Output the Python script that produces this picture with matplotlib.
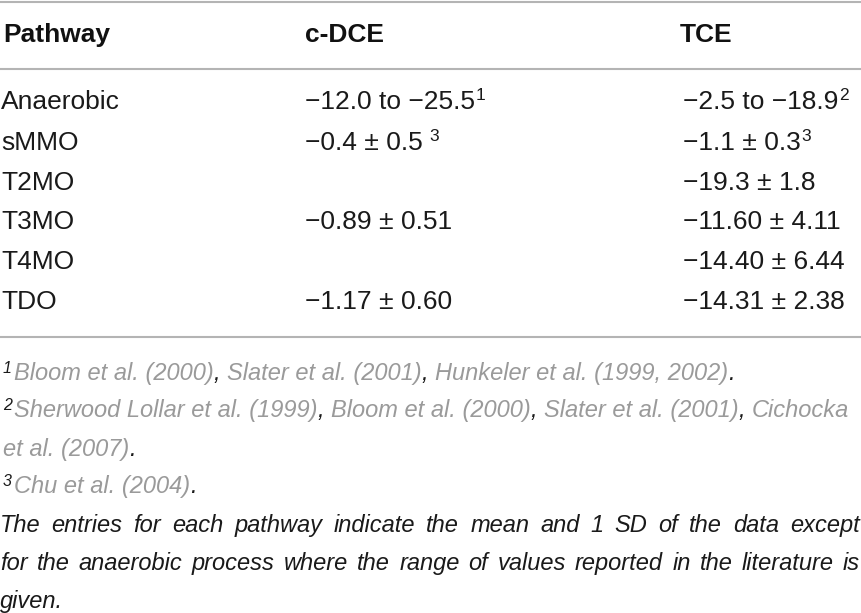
import matplotlib
matplotlib.use("Agg")
import matplotlib.pyplot as plt

# data of the table
headers = ["Pathway", "c-DCE", "TCE"]
pathways = ["Anaerobic", "sMMO", "T2MO", "T3MO", "T4MO", "TDO"]
cdce_values = ["\u221212.0 to \u221225.5", "\u22120.4 \u00b1 0.5", "",
               "\u22120.89 \u00b1 0.51", "", "\u22121.17 \u00b1 0.60"]
cdce_notes = ["1", " 3", "", "", "", ""]
tce_values = ["\u22122.5 to \u221218.9", "\u22121.1 \u00b1 0.3",
              "\u221219.3 \u00b1 1.8", "\u221211.60 \u00b1 4.11",
              "\u221214.40 \u00b1 6.44", "\u221214.31 \u00b1 2.38"]
tce_notes = ["2", "3", "", "", "", ""]

# footnotes: (mark, list of references, ends the note?)
footnote_lines = [
    ("1", ["Bloom et al. (2000)", "Slater et al. (2001)", "Hunkeler et al. (1999, 2002)"], True),
    ("2", ["Sherwood Lollar et al. (1999)", "Bloom et al. (2000)", "Slater et al. (2001)", "Cichocka"], False),
    ("", ["et al. (2007)"], True),
    ("3", ["Chu et al. (2004)"], True),
]
note_text = ["The entries for each pathway indicate the mean and 1 SD of the data except",
             "for the anaerobic process where the range of values reported in the literature is",
             "given."]

W, H = 862, 613
fig = plt.figure(figsize=(W / 100, H / 100), dpi=100)
ax = fig.add_axes([0, 0, 1, 1])
ax.set_xlim(0, W)
ax.set_ylim(H, 0)
ax.axis("off")
renderer = fig.canvas.get_renderer()

body_font = dict(family=["Liberation Sans", "DejaVu Sans"], fontsize=19, color="#1a1a1a")
head_font = dict(family=["Liberation Sans", "DejaVu Sans"], fontsize=19, color="#111111",
                 fontweight="bold")
foot_font = dict(family=["Liberation Sans Narrow", "Liberation Sans", "DejaVu Sans"],
                 fontsize=17, style="italic")
gray = "#9a9a9a"
dark = "#1a1a1a"


def put(x, y, s, **kw):
    t = ax.text(x, y, s, ha="left", va="baseline", **kw)
    return x + t.get_window_extent(renderer).width


def text_width(s, **kw):
    t = ax.text(0, 0, s, **kw)
    w = t.get_window_extent(renderer).width
    t.remove()
    return w


def space_width(**kw):
    return text_width("a a", **kw) - text_width("aa", **kw)


# rules
rule = dict(color="#b4b4b4", lw=1.5)
ax.plot([0, W], [1.5, 1.5], **rule)
ax.plot([0, W], [69, 69], **rule)
ax.plot([0, W], [337, 337], **rule)

# header
col_x = [3, 305, 680]
for x, h in zip(col_x, headers):
    put(x, 42, h, **head_font)

# body rows
row_y = [109, 150, 190, 229, 269, 309]
sup_font = dict(body_font, fontsize=12.5)
for i, y in enumerate(row_y):
    put(1, y, pathways[i], **body_font)
    for x, val, note in [(305, cdce_values[i], cdce_notes[i]), (683, tce_values[i], tce_notes[i])]:
        if not val:
            continue
        xe = put(x, y, val, **body_font)
        if note:
            gap = 7 if note.startswith(" ") else 1
            put(xe + gap, y - 9, note.strip(), **sup_font)

# footnotes
foot_y = [380, 417, 456, 493]
fsup = dict(foot_font, fontsize=11.5, color=dark)
sp = space_width(**foot_font)
for y, (mark, refs, last) in zip(foot_y, footnote_lines):
    x = 3
    if mark:
        x = put(x, y - 7, mark, **fsup) + 2
    for j, r in enumerate(refs):
        x = put(x, y, r, color=gray, **foot_font)
        if j < len(refs) - 1:
            x = put(x, y, ",", color=dark, **foot_font) + sp
    if last:
        put(x, y, ".", color=dark, **foot_font)

# last note, justified
note_y = [532, 570, 608]
for k, (y, line) in enumerate(zip(note_y, note_text)):
    words = line.split(" ")
    if k < len(note_text) - 1:
        widths = [text_width(w_, **foot_font) for w_ in words]
        gap = (W - 2 - sum(widths)) / (len(words) - 1)
        x = 0
        for w_, ww in zip(words, widths):
            put(x, y, w_, color=dark, **foot_font)
            x += ww + gap
    else:
        put(0, y, line, color=dark, **foot_font)

fig.savefig("out.png", dpi=100)
